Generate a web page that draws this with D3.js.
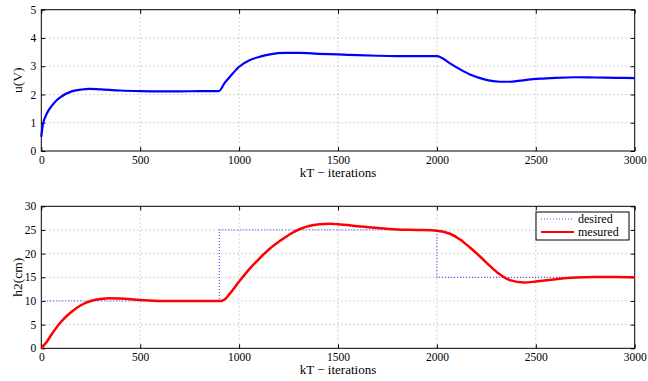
<!DOCTYPE html>
<html><head><meta charset="utf-8">
<script src="https://cdn.jsdelivr.net/npm/d3@7"></script>
<style>body{margin:0;background:#fff}svg{display:block}svg text{font-family:"Liberation Serif","DejaVu Serif",serif !important;fill:#000}</style>
</head><body><svg id="c" width="648" height="381"></svg>
<script>
const xTicks = [0,500,1000,1500,2000,2500,3000];
const uTicks = [0,1,2,3,4,5];
const hTicks = [0,5,10,15,20,25,30];
const uIter = [0,5,10,20,35,50,75,100,150,200,240,300,400,500,600,700,800,898,928,954,1000,1055,1106,1156,1232,1308,1400,1500,1600,1700,1800,1900,2000,2066,2117,2167,2218,2268,2319,2369,2420,2521,2600,2700,2800,2900,3000];
const uVal  = [0.5,0.8,1.0,1.2,1.42,1.57,1.78,1.92,2.1,2.17,2.2,2.18,2.14,2.12,2.11,2.11,2.12,2.12,2.42,2.63,2.98,3.22,3.34,3.42,3.47,3.47,3.44,3.42,3.39,3.37,3.36,3.36,3.36,3.10,2.89,2.71,2.58,2.49,2.45,2.45,2.49,2.56,2.59,2.61,2.6,2.59,2.58];
const desIter = [0,900,900,2000,2000,3000];
const desVal  = [10,10,25,25,15,15];
const hIter = [0,25,50,100,150,200,250,300,340,400,500,600,700,800,900,913,928,954,1000,1055,1106,1156,1207,1257,1308,1358,1409,1460,1500,1600,1700,1800,1900,2000,2066,2117,2167,2218,2268,2319,2369,2440,2500,2600,2700,2800,2900,3000];
const hVal  = [0,1.2,2.8,5.6,7.6,9.1,10.0,10.4,10.6,10.5,10.2,10.0,10.0,10.0,10.0,10.05,10.35,11.6,14.1,16.9,19.1,21.1,22.7,24.1,25.2,25.9,26.2,26.3,26.2,25.8,25.4,25.1,25.0,24.85,24.2,23.0,21.3,19.4,17.4,15.6,14.4,13.9,14.1,14.6,14.95,15.05,15.05,15.0];
const legendLabels = ["desired","mesured"];

const svg = d3.select("#c");
const L = 41.3, R = 634.7;
const x = d3.scaleLinear().domain([0,3000]).range([L,R]);
const fmt = d3.format("d");

function panel(top, bottom, yDomain, yTicks, yLabel, yLabelX) {
  const y = d3.scaleLinear().domain(yDomain).range([bottom, top]);
  const g = svg.append("g");
  g.append("g").selectAll("line").data(xTicks.slice(1,-1)).join("line")
    .attr("x1", d=>x(d)).attr("x2", d=>x(d)).attr("y1", top).attr("y2", bottom)
    .attr("stroke","#999").attr("stroke-width",0.8).attr("stroke-dasharray","1,3");
  g.append("g").selectAll("line").data(yTicks.slice(1,-1)).join("line")
    .attr("x1", L).attr("x2", R).attr("y1", d=>y(d)).attr("y2", d=>y(d))
    .attr("stroke","#999").attr("stroke-width",0.8).attr("stroke-dasharray","1,3");
  const ax = g.append("g").attr("transform",`translate(0,${bottom})`).call(d3.axisBottom(x).tickValues(xTicks).tickFormat(fmt).tickSizeInner(-4).tickSizeOuter(0).tickPadding(5));
  const axT = g.append("g").attr("transform",`translate(0,${top})`).call(d3.axisTop(x).tickValues(xTicks).tickSizeInner(-4).tickSizeOuter(0).tickFormat(""));
  const ay = g.append("g").attr("transform",`translate(${L},0)`).call(d3.axisLeft(y).tickValues(yTicks).tickFormat(fmt).tickSizeInner(-4).tickSizeOuter(0).tickPadding(5));
  const ayR = g.append("g").attr("transform",`translate(${R},0)`).call(d3.axisRight(y).tickValues(yTicks).tickSizeInner(-4).tickSizeOuter(0).tickFormat(""));
  [ax,axT,ay,ayR].forEach(a=>{a.attr("font-family",null).attr("font-size",null);a.select(".domain").remove();a.selectAll("text").attr("font-size",11.5);a.selectAll("line").attr("stroke","#000");});
  g.append("rect").attr("x",L).attr("y",top).attr("width",R-L).attr("height",bottom-top)
    .attr("fill","none").attr("stroke","#000").attr("stroke-width",1);
  g.append("text").attr("x",(L+R)/2).attr("y",bottom+26).attr("text-anchor","middle").attr("font-size",13).text("kT \u2212 iterations");
  g.append("text").attr("transform",`translate(${yLabelX},${(top+bottom)/2}) rotate(-90)`).attr("text-anchor","middle").attr("font-size",13.5).text(yLabel);
  return {g,y};
}

const p1 = panel(9.7, 151, [0,5], uTicks, "u(V)", 22);
p1.g.append("path").datum(uIter.map((d,i)=>[d,uVal[i]]))
  .attr("fill","none").attr("stroke","#0000ff").attr("stroke-width",2.2)
  .attr("d", d3.line().x(d=>x(d[0])).y(d=>p1.y(d[1])).curve(d3.curveMonotoneX));

const p2 = panel(206.3, 348.3, [0,30], hTicks, "h2(cm)", 22);
p2.g.append("path").datum(desIter.map((d,i)=>[d,desVal[i]]))
  .attr("fill","none").attr("stroke","#5555ff").attr("stroke-width",1.2).attr("stroke-dasharray","1,2")
  .attr("d", d3.line().x(d=>x(d[0])).y(d=>p2.y(d[1])));
p2.g.append("path").datum(hIter.map((d,i)=>[d,hVal[i]]))
  .attr("fill","none").attr("stroke","#ff0000").attr("stroke-width",2.5)
  .attr("d", d3.line().x(d=>x(d[0])).y(d=>p2.y(d[1])).curve(d3.curveMonotoneX));

const lg = svg.append("g");
lg.append("rect").attr("x",536).attr("y",212).attr("width",93).attr("height",28).attr("fill","#fff").attr("stroke","#000").attr("stroke-width",1);
lg.append("line").attr("x1",541).attr("x2",574).attr("y1",219).attr("y2",219).attr("stroke","#5555ff").attr("stroke-width",1.2).attr("stroke-dasharray","1,2");
lg.append("line").attr("x1",541).attr("x2",574).attr("y1",232).attr("y2",232).attr("stroke","#ff0000").attr("stroke-width",2);
lg.selectAll("text").data(legendLabels).join("text").attr("x",578).attr("y",(d,i)=>223+i*13).attr("font-size",12).text(d=>d);
</script></body></html>
